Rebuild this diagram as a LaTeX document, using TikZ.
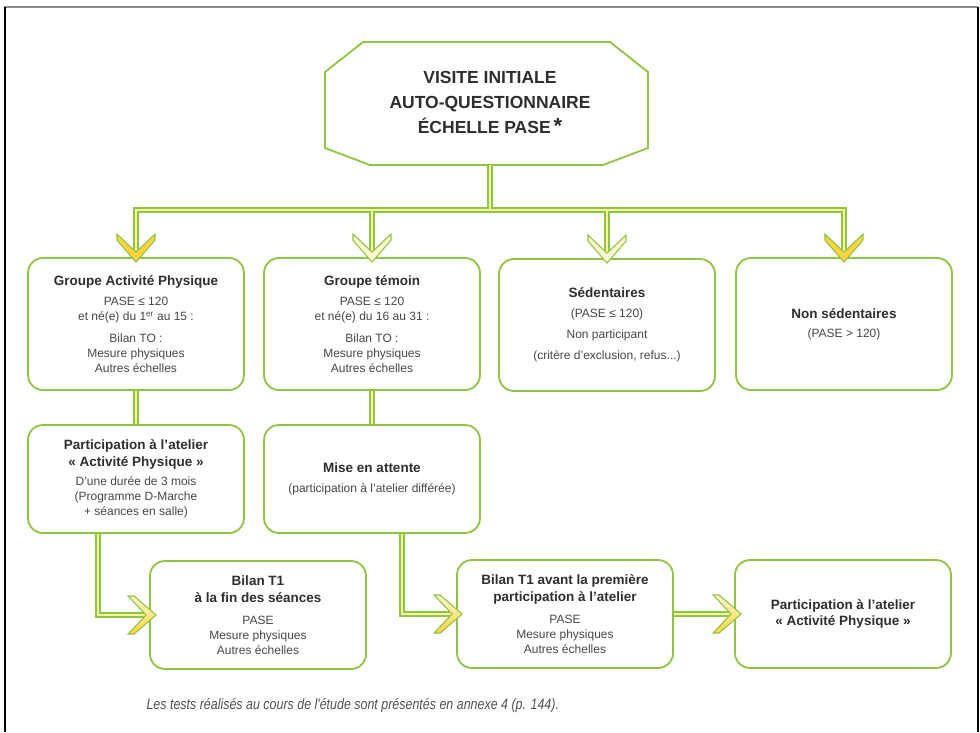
\documentclass[tikz,border=0pt]{standalone}
\usepackage{fontspec}
\setmainfont{Liberation Sans}
\newfontfamily\notefont[FakeStretch=0.83]{Liberation Sans}

\definecolor{boxgreen}{HTML}{8DC63F}
\definecolor{creamline}{HTML}{FFF0A8}
\definecolor{goldarrow}{HTML}{FFD23F}
\definecolor{palearrow}{HTML}{FFF7D2}
\definecolor{textdark}{HTML}{2E2E2E}
\definecolor{textgray}{HTML}{474747}
\definecolor{notegray}{HTML}{505050}
\definecolor{framegray}{HTML}{8A8A8A}

\newcommand{\titlefont}{\fontsize{13.5}{16.5}\selectfont\bfseries\color{textdark}}

\tikzset{
  box/.style={draw=boxgreen, line width=1.8pt, rounded corners=15pt, fill=white,
    minimum width=216pt, minimum height=132pt, align=center, text=textgray,
    font=\fontsize{12}{15}\selectfont},
  lowbox/.style={box, minimum height=108pt},
  dbl/.style={draw=boxgreen, line width=1.8pt, double=creamline, double distance=2.6pt, line join=miter},
  chev/.style={draw=boxgreen, line width=1.1pt, line join=miter},
  pics/chevron/.style={code={\path[chev,#1] (0,0) -- (-22,19) -- (-28,19) -- (-10,0) -- (-28,-19) -- (-22,-19) -- cycle;}},
}

\begin{document}
\begin{tikzpicture}[x=1pt,y=-1pt]
  \useasboundingbox (0,0) rectangle (980,732);
  \draw[framegray, line width=1.6pt] (4,7) -- (978,7);
  \draw[black, line width=1.5pt] (5,7) -- (5,732);
  \draw[black, line width=1.5pt] (978,7) -- (978,732);

  \draw[boxgreen, line width=1.8pt, fill=white] (325,72) -- (363,42) -- (610,42) -- (648,72)
    -- (648,148) -- (603,165) -- (370,165) -- (325,148) -- cycle;
  \node[font=\fontsize{17.5}{25}\selectfont\bfseries, align=center, text=textdark] (visite) at (490,102)
    {VISITE INITIALE\\AUTO-QUESTIONNAIRE\\ÉCHELLE PASE\,{\fontsize{22}{22}\selectfont *}};
  \coordinate (vbot) at (490,165);
  \coordinate (fork) at (490,210);

  \node[box] (A) at (136,324) {\titlefont Groupe Activité Physique\\[5pt]
    PASE ≤ 120\\ et né(e) du 1\textsuperscript{er} au 15 :\\[7pt]
    Bilan TO :\\ Mesure physiques\\ Autres échelles};
  \node[box] (B) at (372,324) {\titlefont Groupe témoin\\[5pt]
    PASE ≤ 120\\ et né(e) du 16 au 31 :\\[7pt]
    Bilan TO :\\ Mesure physiques\\ Autres échelles};
  \node[box] (C) at (607,325) {\titlefont Sédentaires\\[5pt]
    (PASE ≤ 120)\\[6pt] Non participant\\[6pt] (critère d’exclusion, refus...)};
  \node[box] (D) at (844,324) {\titlefont Non sédentaires\\[4pt] (PASE > 120)};

  \node[lowbox] (E) at (136,479) {\titlefont Participation à l’atelier\\[1.5pt] \titlefont «~Activité Physique~»\\[4pt]
    D’une durée de 3 mois\\ (Programme D-Marche\\ + séances en salle)};
  \node[lowbox] (F) at (372,479) {\titlefont Mise en attente\\[5pt]
    (participation à l’atelier différée)};

  \node[lowbox] (G) at (258,615) {\titlefont Bilan T1\\[1.5pt] \titlefont à la fin des séances\\[7pt]
    PASE\\ Mesure physiques\\ Autres échelles};
  \node[lowbox] (H) at (565,614) {\titlefont Bilan T1 avant la première\\[1.5pt] \titlefont participation à l’atelier\\[7pt]
    PASE\\ Mesure physiques\\ Autres échelles};
  \node[lowbox] (I) at (843,614) {\titlefont Participation à l’atelier\\[1.5pt] \titlefont «~Activité Physique~»};

  \draw[dbl] (vbot) -- (fork)
    ([yshift=5pt]A.north) |- (fork) -| ([yshift=5pt]D.north)
    ([yshift=5pt]B.north) -- (B.north |- fork)
    ([yshift=5pt]C.north) -- (C.north |- fork);
  \draw[dbl] (A.south) -- (A.south |- E.north);
  \draw[dbl] (B.south) -- (B.south |- F.north);
  \draw[dbl] ([xshift=-38pt]E.south) |- ([xshift=-3pt]G.west);
  \draw[dbl] ([xshift=30pt]F.south) |- ([xshift=-4pt]H.west);
  \draw[dbl] (H.east) -- ([xshift=-3pt]I.west);

  \pic[rotate=-90] at ([yshift=-5pt]A.north) {chevron={fill=goldarrow}};
  \pic[rotate=-90] at ([yshift=-5pt]B.north) {chevron={fill=palearrow}};
  \pic[rotate=-90] at ([yshift=-5pt]C.north) {chevron={fill=palearrow}};
  \pic[rotate=-90] at ([yshift=-5pt]D.north) {chevron={fill=goldarrow}};
  \pic at ([xshift=7pt]G.west) {chevron={top color=palearrow, bottom color=goldarrow}};
  \pic at ([xshift=6pt]H.west) {chevron={top color=palearrow, bottom color=goldarrow}};
  \pic at ([xshift=7pt]I.west) {chevron={top color=palearrow, bottom color=goldarrow}};

  \node[anchor=west, font=\notefont\itshape\fontsize{15}{18}\selectfont, text=notegray] (note) at (143,706)
    {Les tests réalisés au cours de l'étude sont présentés en annexe 4 (p. 144).};
\end{tikzpicture}
\end{document}
